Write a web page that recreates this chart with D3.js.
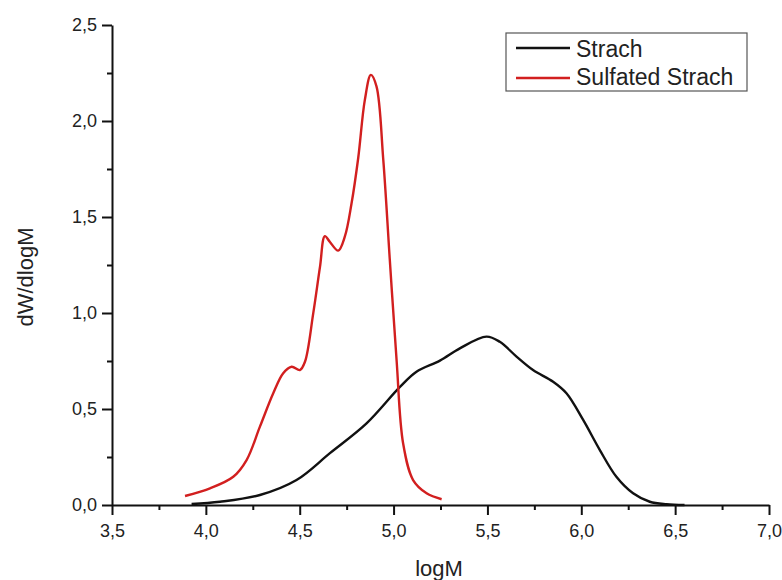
<!DOCTYPE html>
<html><head><meta charset="utf-8">
<script src="https://cdn.jsdelivr.net/npm/d3@7"></script>
<style>body{margin:0;background:#fff}svg{display:block}text{font-family:"Liberation Sans",Arial,sans-serif;fill:#222}</style>
</head><body><svg id="c" width="782" height="580"></svg>
<script>
const seriesNames = ["Strach", "Sulfated Strach"];
const seriesColors = ["#111111", "#d21f1f"];
const strachX = [3.924,4.075,4.288,4.483,4.661,4.856,5.034,5.122,5.247,5.353,5.495,5.566,5.655,5.743,5.850,5.921,6.010,6.099,6.187,6.276,6.365,6.454,6.55];
const strachY = [0.005,0.017,0.052,0.13,0.27,0.425,0.615,0.694,0.752,0.816,0.877,0.85,0.773,0.703,0.642,0.582,0.443,0.286,0.147,0.061,0.017,0.004,0.0];
const sulfX = [3.889,4.022,4.146,4.217,4.288,4.359,4.412,4.457,4.501,4.528,4.572,4.608,4.634,4.661,4.705,4.741,4.776,4.812,4.847,4.879,4.909,4.945,4.980,5.016,5.051,5.104,5.176,5.256];
const sulfY = [0.047,0.087,0.147,0.234,0.408,0.582,0.686,0.72,0.703,0.746,0.998,1.24,1.40,1.37,1.325,1.40,1.57,1.81,2.11,2.24,2.18,1.80,1.276,0.755,0.32,0.13,0.061,0.03];
const xTicks = [3.5,4.0,4.5,5.0,5.5,6.0,6.5,7.0];
const yTicks = [0.0,0.5,1.0,1.5,2.0,2.5];
const xLabel = "logM", yLabel = "dW/dlogM";

const svg = d3.select("#c");
const x = d3.scaleLinear().domain([3.5,7.0]).range([112,769]);
const y = d3.scaleLinear().domain([0,2.5]).range([505,25]);
const fmt = d => d.toFixed(1).replace(".", ",");

const xMinor = d3.range(3.75,7.0,0.5);
const yMinor = d3.range(0.25,2.5,0.5);
const gx = svg.append("g").attr("transform","translate(0,505)");
gx.call(d3.axisBottom(x).tickValues(xTicks).tickFormat(fmt).tickSize(10).tickSizeOuter(0));
gx.append("g").call(d3.axisBottom(x).tickValues(xMinor).tickFormat("").tickSize(5).tickSizeOuter(0)).select(".domain").remove();
const gy = svg.append("g").attr("transform","translate(112,0)");
gy.call(d3.axisLeft(y).tickValues(yTicks).tickFormat(fmt).tickSize(10).tickSizeOuter(0));
gy.append("g").call(d3.axisLeft(y).tickValues(yMinor).tickFormat("").tickSize(5).tickSizeOuter(0)).select(".domain").remove();
svg.selectAll(".domain").attr("stroke","#111").attr("stroke-width",2);
svg.selectAll(".tick line").attr("stroke","#111").attr("stroke-width",2);
gx.selectAll(".tick text").attr("font-size",18).attr("y",19).attr("fill","#222").attr("font-family","Liberation Sans, Arial, sans-serif");
gy.selectAll(".tick text").attr("font-size",18).attr("x",-15).attr("fill","#222").attr("font-family","Liberation Sans, Arial, sans-serif");

svg.append("text").attr("x",439).attr("y",576).attr("text-anchor","middle").attr("font-size",22).text(xLabel);
svg.append("text").attr("transform","translate(33,277) rotate(-90)").attr("text-anchor","middle").attr("font-size",22).text(yLabel);

const line = d3.line().x(d=>x(d[0])).y(d=>y(d[1])).curve(d3.curveCatmullRom.alpha(0.5));
const data = [d3.zip(strachX,strachY), d3.zip(sulfX,sulfY)];
data.forEach((pts,i)=>{
  svg.append("path").datum(pts).attr("d",line).attr("fill","none").attr("stroke",seriesColors[i]).attr("stroke-width",2.4).attr("stroke-linejoin","round");
});

const lg = svg.append("g");
lg.append("rect").attr("x",506).attr("y",33).attr("width",241).attr("height",58).attr("fill","#fff").attr("stroke","#555").attr("stroke-width",1.2);
const rowLine = [48, 78], rowText = [57, 85];
seriesNames.forEach((n,i)=>{
  lg.append("line").attr("x1",516).attr("x2",570).attr("y1",rowLine[i]).attr("y2",rowLine[i]).attr("stroke",seriesColors[i]).attr("stroke-width",2.4);
  lg.append("text").attr("x",576).attr("y",rowText[i]).attr("font-size",23).text(n);
});
</script></body></html>
